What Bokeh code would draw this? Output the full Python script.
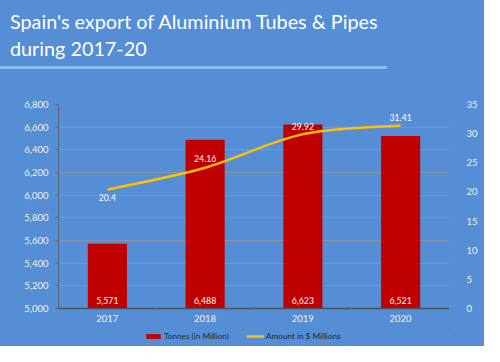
import numpy as np
from bokeh.plotting import figure
from bokeh.layouts import column
from bokeh.models import (Range1d, LinearAxis, FixedTicker, NumeralTickFormatter, Div,
                          ColumnDataSource, LabelSet, Legend, LegendItem)
from bokeh.core.properties import value
from bokeh.embed import file_html
from bokeh.resources import INLINE

# ---- data ----
years = ["2017", "2018", "2019", "2020"]
tonnes = [5571, 6488, 6623, 6521]
amount = [20.4, 24.16, 29.92, 31.41]
left_ticks = [5000, 5200, 5400, 5600, 5800, 6000, 6200, 6400, 6600, 6800]
right_ticks = [0, 5, 10, 15, 20, 25, 30, 35]
title_lines = ["Spain's export of Aluminium Tubes &amp; Pipes", "during 2017-20"]
series_names = ["Tonnes (in Million)", "Amount in $ Millions"]

# ---- style / layout ----
BG = "#558ED5"
BAR = "#C00000"
LINE = "#FFC000"
TXT = "#F2F2F2"
FONT = "Lato"
amount_label_offsets = [-8, 9, 8, 8]
W = 484
FL, FW, FH = 58, 391, 204
HEAD_H = 96

idx = list(range(len(years)))

# ---- header (title + underline) ----
head_html = (
    f'<div style="position:relative;width:{W}px;height:{HEAD_H}px;background:{BG};'
    f'font-family:{FONT};color:white;overflow:hidden">'
    f'<div style="position:absolute;left:10px;top:8px;font-size:19.8px;line-height:27px;'
    f'white-space:nowrap">{title_lines[0]}<br>{title_lines[1]}</div>'
    f'<div style="position:absolute;left:0px;top:66px;width:387px;height:3px;'
    f'background:#8DBDF2"></div></div>')
head = Div(text=head_html, width=W, height=HEAD_H, margin=0,
           styles={"background-color": BG})

# ---- main chart ----
p = figure(frame_width=FW, frame_height=FH, output_backend="svg", toolbar_location=None,
           x_range=Range1d(-0.5, len(years) - 0.5),
           y_range=Range1d(left_ticks[0], left_ticks[-1]),
           min_border_left=FL, min_border_right=W - FL - FW,
           min_border_top=8, min_border_bottom=20, margin=0)
p.background_fill_color = BG
p.border_fill_color = BG
p.outline_line_color = None
p.extra_y_ranges = {"amt": Range1d(right_ticks[0], right_ticks[-1])}

p.xgrid.grid_line_color = None
p.ygrid.ticker = FixedTicker(ticks=left_ticks)
p.ygrid.grid_line_color = "#8a94a6"
p.ygrid.grid_line_width = 1

ya = p.yaxis[0]
ya.ticker = FixedTicker(ticks=left_ticks)
ya.formatter = NumeralTickFormatter(format="0,0")
ya.axis_line_color = "#5d6776"
ya.major_tick_line_color = "#5d6776"
ya.major_tick_out = 3
ya.major_tick_in = 0
ya.minor_tick_line_color = None
ya.major_label_standoff = 7
ya.major_label_text_color = TXT
ya.major_label_text_font = FONT
ya.major_label_text_font_size = "9.5px"

xa = p.xaxis[0]
xa.ticker = FixedTicker(ticks=idx, minor_ticks=[i - 0.5 for i in range(len(years) + 1)])
xa.major_label_overrides = {i: y for i, y in zip(idx, years)}
xa.axis_line_color = "#4a5260"
xa.axis_line_width = 1.5
xa.major_tick_line_color = None
xa.major_tick_out = 0
xa.major_tick_in = 0
xa.minor_tick_line_color = "#7a8495"
xa.minor_tick_out = 4
xa.minor_tick_in = 0
xa.major_label_standoff = 2
xa.major_label_text_color = TXT
xa.major_label_text_font = FONT
xa.major_label_text_font_size = "9.5px"

ra = LinearAxis(y_range_name="amt", ticker=FixedTicker(ticks=right_ticks))
ra.axis_line_color = None
ra.major_tick_line_color = None
ra.minor_tick_line_color = None
ra.major_label_standoff = 11
ra.major_label_text_color = TXT
ra.major_label_text_font = FONT
ra.major_label_text_font_size = "9.5px"
p.add_layout(ra, "right")

src = ColumnDataSource(dict(
    x=idx, top=tonnes, base=[left_ticks[0]] * len(idx),
    lbl=[f"{v:,}" for v in tonnes],
    amt=amount, albl=[f"{v:g}" for v in amount], aoff=amount_label_offsets))
p.vbar(x="x", top="top", bottom="base", width=0.4, source=src,
       fill_color=BAR, line_color=None)

# smoothed line (Catmull-Rom -> cubic Bezier through the data points)
xs = np.array(idx, dtype=float)
ys = np.array(amount, dtype=float)
xp = np.concatenate([[xs[0]], xs, [xs[-1]]])
yp = np.concatenate([[ys[0]], ys, [ys[-1]]])
n = len(xs) - 1
bsrc = ColumnDataSource(dict(
    x0=xs[:-1], y0=ys[:-1], x1=xs[1:], y1=ys[1:],
    cx0=xs[:-1] + (xp[2:2 + n] - xp[0:n]) / 6, cy0=ys[:-1] + (yp[2:2 + n] - yp[0:n]) / 6,
    cx1=xs[1:] - (xp[3:3 + n] - xp[1:1 + n]) / 6, cy1=ys[1:] - (yp[3:3 + n] - yp[1:1 + n]) / 6))
p.bezier(x0="x0", y0="y0", x1="x1", y1="y1", cx0="cx0", cy0="cy0", cx1="cx1", cy1="cy1",
         source=bsrc, line_color=LINE, line_width=2.5, y_range_name="amt")

p.add_layout(LabelSet(x="x", y="base", text="lbl", source=src, y_offset=5,
                      text_align="center", text_baseline="bottom",
                      text_color="white", text_font=value(FONT), text_font_size="8.7px"))
p.add_layout(LabelSet(x="x", y="amt", text="albl", source=src, y_offset="aoff",
                      y_range_name="amt", text_align="center", text_baseline="middle",
                      text_color="white", text_font=value(FONT), text_font_size="8.7px"))

# ---- legend strip (series drawn entirely off-view, only their legend glyphs show) ----
q = figure(frame_width=FW, height=18, output_backend="svg", toolbar_location=None,
           x_range=Range1d(-1001, -1000), y_range=Range1d(-1001, -1000),
           x_axis_location=None, y_axis_location=None,
           min_border_left=FL, min_border_right=W - FL - FW,
           min_border_top=0, min_border_bottom=0, margin=0)
q.background_fill_color = BG
q.border_fill_color = BG
q.outline_line_color = None
q.xgrid.grid_line_color = None
q.ygrid.grid_line_color = None
r_bar = q.vbar(x="x", top="top", bottom="base", width=0.4, source=src,
               fill_color=BAR, line_color=None)
r_line = q.line(x="x", y="amt", source=src, line_color=LINE, line_width=2.5)
leg = Legend(items=[LegendItem(label=series_names[0], renderers=[r_bar]),
                    LegendItem(label=series_names[1], renderers=[r_line])],
             orientation="horizontal", location=(144 - FL, 5),
             glyph_width=18, glyph_height=6, label_height=9, label_standoff=2,
             spacing=17, padding=0, margin=0,
             label_text_font=FONT, label_text_font_size="8.2px", label_text_color="#1f2a3a",
             background_fill_alpha=0, border_line_alpha=0)
q.add_layout(leg, "center")

page = column(head, p, q, spacing=0, margin=0, styles={"background-color": BG})
open("out.html", "w").write(file_html(page, INLINE))
